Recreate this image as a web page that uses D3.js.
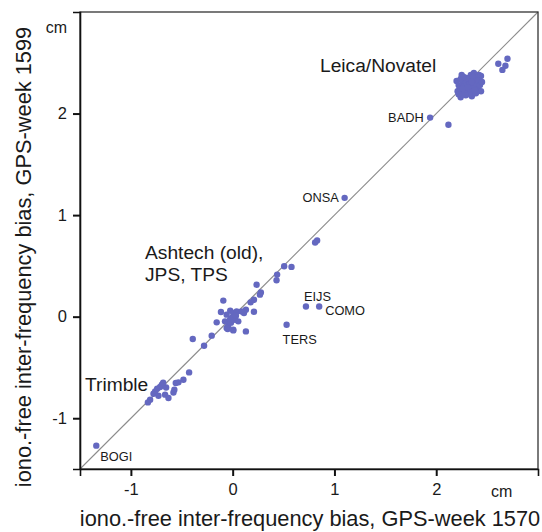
<!DOCTYPE html>
<html><head><meta charset="utf-8">
<script src="https://cdn.jsdelivr.net/npm/d3@7"></script>
<style>
html,body{margin:0;padding:0;background:#fff;}
svg text{font-family:"Liberation Sans", Arial, sans-serif;fill:#1a1a1a;}
</style></head>
<body>
<svg id="c" width="542" height="532"></svg>
<script>
// GPS-week 1570 (x) vs GPS-week 1599 (y), cm
const leicaX = [2.25,2.34,2.37,2.42,2.44,2.20,2.24,2.35,2.22,2.23,2.25,2.26,2.27,2.28,2.29,2.30,2.31,2.32,2.33,2.34,2.35,2.36,2.37,2.38,2.39,2.40,2.41,2.42,2.43,2.44,2.21,2.24,2.28,2.30,2.33,2.36,2.39,2.27,2.22,2.45,2.26,2.31,2.35,2.38,2.29,2.70,2.61,2.68,2.65,1.94,2.12];
const leicaY = [2.38,2.38,2.40,2.38,2.37,2.32,2.16,2.17,2.28,2.25,2.22,2.30,2.27,2.24,2.32,2.28,2.21,2.25,2.30,2.34,2.27,2.22,2.31,2.26,2.35,2.29,2.24,2.32,2.28,2.22,2.22,2.34,2.20,2.35,2.19,2.36,2.20,2.36,2.19,2.31,2.25,2.26,2.31,2.23,2.18,2.54,2.49,2.47,2.43,1.96,1.89];
const ashtechX = [1.10,0.81,0.83,0.72,0.85,0.53,0.506,0.578,0.437,0.431,0.235,0.277,0.268,0.209,0.176,-0.092,-0.115,-0.024,-0.157,0.209,0.130,0.111,0.130,0.006,-0.049,-0.392,-0.206,-0.281,-0.059,0.006,0.039,0.088,-0.075,-0.026,0.023,0.055,-0.043,0.006,-0.059,-0.007,0.032,-0.017];
const ashtechY = [1.17,0.73,0.75,0.10,0.10,-0.08,0.496,0.490,0.414,0.358,0.315,0.239,0.217,0.167,0.141,0.158,0.046,0.059,-0.056,0.049,0.069,0.036,-0.145,-0.135,-0.121,-0.220,-0.187,-0.286,0.020,0.036,0.052,0.052,-0.046,-0.030,-0.030,-0.046,-0.089,-0.128,-0.111,-0.010,0.010,-0.059];
const trimbleX = [-0.428,-0.484,-0.533,-0.559,-0.573,-0.582,-0.696,-0.713,-0.654,-0.762,-0.778,-0.729,-0.664,-0.631,-0.811,-0.833,-0.683,-0.742,-1.34];
const trimbleY = [-0.549,-0.621,-0.647,-0.653,-0.719,-0.746,-0.670,-0.693,-0.697,-0.736,-0.759,-0.778,-0.768,-0.801,-0.818,-0.844,-0.650,-0.709,-1.27];
const tickValues = [-1,0,1,2];
const stationNames = ["BADH","ONSA","EIJS","COMO","TERS","BOGI"];
const stationX = [1.94,1.10,0.72,0.85,0.53,-1.34];
const stationY = [1.96,1.17,0.10,0.10,-0.08,-1.27];
const groupNames = [["Leica/Novatel"],["Ashtech (old),","JPS, TPS"],["Trimble"]];
const xTitle = "iono.-free inter-frequency bias, GPS-week 1570";
const yTitle = "iono.-free inter-frequency bias, GPS-week 1599";

const svg = d3.select("#c");
const L=80,R=538,T=12,B=469;
const x = d3.scaleLinear().domain([-1.5,3]).range([L,R]);
const y = d3.scaleLinear().domain([-1.5,3]).range([B,T]);
const col = "#6468c0";

// diagonal
svg.append("line").attr("x1",x(-1.5)).attr("y1",y(-1.5)).attr("x2",x(3)).attr("y2",y(3))
  .attr("stroke","#8c8c8c").attr("stroke-width",1.1);

// frame
svg.append("rect").attr("x",L).attr("y",T).attr("width",R-L).attr("height",B-T)
  .attr("fill","none").attr("stroke","#333").attr("stroke-width",1.3);

const xa = svg.append("g").attr("transform",`translate(0,${B})`)
  .call(d3.axisBottom(x).tickValues(tickValues).tickSize(7).tickPadding(7).tickFormat(d3.format("d")));
const ya = svg.append("g").attr("transform",`translate(${L},0)`)
  .call(d3.axisLeft(y).tickValues(tickValues).tickSize(7).tickPadding(6).tickFormat(d3.format("d")));
[xa,ya].forEach(a=>{
  a.select(".domain").attr("stroke","#111").attr("stroke-width",1.6);
  a.selectAll(".tick line").attr("stroke","#111").attr("stroke-width",2);
  a.selectAll(".tick text").attr("font-size",16.5).attr("fill","#1a1a1a")
   .style("font-family","'Liberation Sans', Arial, sans-serif");
});
ya.selectAll(".tick text").text(d=>d<0?"-"+Math.abs(d):d);
xa.selectAll(".tick text").text(d=>d<0?"-"+Math.abs(d):d);

// points
const all = [];
[[leicaX,leicaY],[ashtechX,ashtechY],[trimbleX,trimbleY]].forEach(([xs,ys])=>{
  xs.forEach((v,i)=>all.push([v,ys[i]]));
});
svg.append("g").selectAll("circle").data(all).join("circle")
  .attr("cx",d=>x(d[0])).attr("cy",d=>y(d[1])).attr("r",3.2).attr("fill",col);

// station labels
const stPos = [[-42,4],[-42,4],[-2,-6],[6,8],[-4,19],[4,15]];
svg.append("g").selectAll("text").data(stationNames).join("text")
  .attr("x",(d,i)=>x(stationX[i])+stPos[i][0]).attr("y",(d,i)=>y(stationY[i])+stPos[i][1])
  .attr("font-size",12.8).text(d=>d);

// group labels
const gPos = [[320,72],[145,259],[85,391]];
groupNames.forEach((lines,i)=>{
  lines.forEach((t,j)=>{
    svg.append("text").attr("x",gPos[i][0]).attr("y",gPos[i][1]+j*22).attr("font-size",19.2).text(t);
  });
});

// units
svg.append("text").attr("x",67).attr("y",33).attr("text-anchor","end").attr("font-size",16).text("cm");
svg.append("text").attr("x",491).attr("y",497).attr("font-size",16).text("cm");

// titles
svg.append("text").attr("x",310).attr("y",526).attr("text-anchor","middle").attr("font-size",21.8).text(xTitle);
svg.append("text").attr("transform","translate(31,257) rotate(-90)").attr("text-anchor","middle").attr("font-size",21.8).text(yTitle);
</script>
</body></html>
